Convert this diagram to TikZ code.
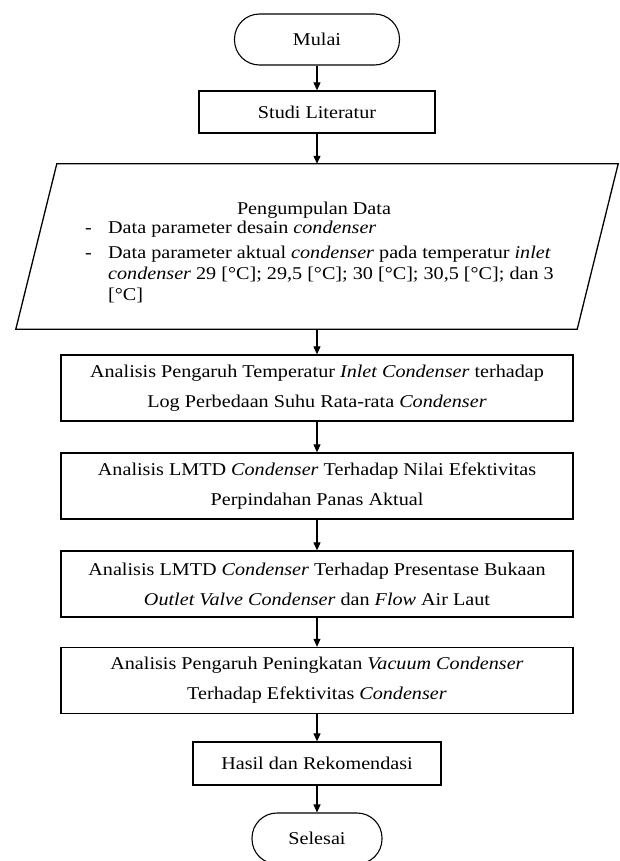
\documentclass[tikz,border=0pt]{standalone}
\usepackage{fontspec}
\setmainfont{Liberation Serif}[FakeStretch=1.12]
\usetikzlibrary{arrows.meta}

\begin{document}
\begin{tikzpicture}[x=1pt,y=1pt]
\tikzstyle{every node}+=[inner sep=0pt, font=\fontsize{18}{21}\selectfont]
\tikzstyle{terminal}=[draw, line width=1.1pt, rounded corners=25pt, minimum width=165pt, minimum height=51pt]
\tikzstyle{process}=[draw, line width=1.3pt, minimum width=512pt, minimum height=66pt, align=center, font=\fontsize{18}{30}\selectfont]
\tikzstyle{data}=[minimum width=602pt, minimum height=165pt]
\tikzstyle{arrow}=[line width=1.1pt, -{Triangle[length=8pt,width=7pt]}]
\useasboundingbox (0,0) rectangle (619,-861);
\node [terminal] (mulai) at (317,-39.5) {Mulai};
\node [process, minimum width=236pt, minimum height=42pt] (studi) at (317,-112) {Studi Literatur};
\node [data] (data) at (317,-246.5) {};
\draw [line width=1.3pt] ([xshift=41pt]data.north west) -- (data.north east) -- ([xshift=-41pt]data.south east) -- (data.south west) -- cycle;
\node (judul) at (314,-210) {Pengumpulan Data};
\node [anchor=north west] (isi) at (85,-219) {\begin{tabular}{@{}p{23pt}@{}l@{}}
- & Data parameter desain \textit{condenser}\\[4pt]
- & Data parameter aktual \textit{condenser} pada temperatur \textit{inlet}\\
 & \textit{condenser} 29 [°C]; 29,5 [°C]; 30 [°C]; 30,5 [°C]; dan 3\\
 & [°C]
\end{tabular}};
\node [process] (pengaruh) at (317,-388) {Analisis Pengaruh Temperatur \textit{Inlet Condenser} terhadap\\Log Perbedaan Suhu Rata-rata \textit{Condenser}};
\node [process] (efektif) at (317,-486) {Analisis LMTD \textit{Condenser} Terhadap Nilai Efektivitas\\Perpindahan Panas Aktual};
\node [process] (bukaan) at (317,-584) {Analisis LMTD \textit{Condenser} Terhadap Presentase Bukaan\\\textit{Outlet Valve Condenser} dan \textit{Flow} Air Laut};
\node [process] (vakum) at (317,-680.5) {Analisis Pengaruh Peningkatan \textit{Vacuum Condenser}\\Terhadap Efektivitas \textit{Condenser}};
\node [process, minimum width=248pt, minimum height=43pt] (hasil) at (317,-763.5) {Hasil dan Rekomendasi};
\node [terminal, minimum width=130pt] (selesai) at (317,-838.5) {Selesai};
% alur
\draw [arrow] (mulai) -- (studi);
\draw [arrow] (studi) -- (data.north);
\draw [arrow] (data.south) -- (pengaruh);
\draw [arrow] (pengaruh) -- (efektif);
\draw [arrow] (efektif) -- (bukaan);
\draw [arrow] (bukaan) -- (vakum);
\draw [arrow] (vakum) -- (hasil);
\draw [arrow] (hasil) -- (selesai);
\end{tikzpicture}
\end{document}
